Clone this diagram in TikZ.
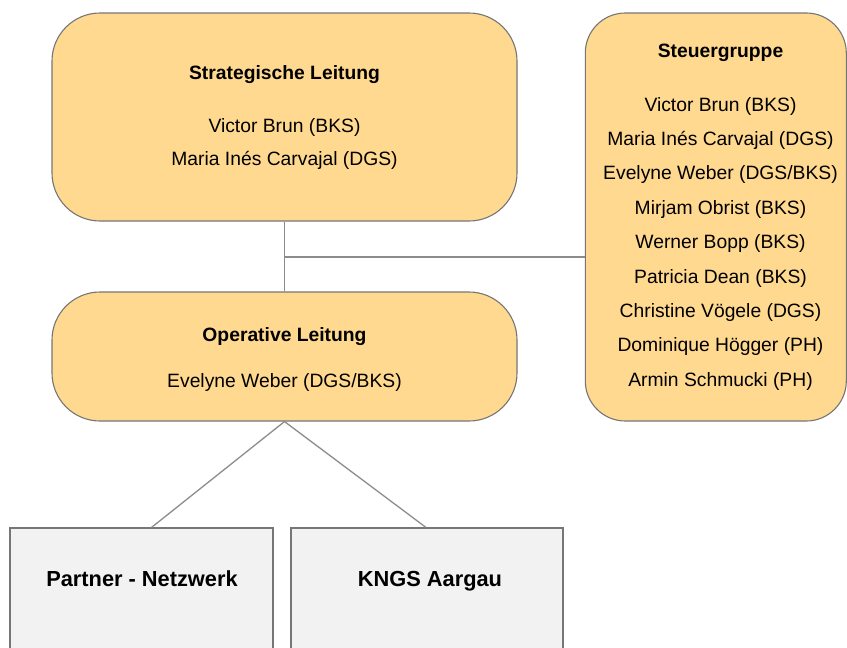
\documentclass[tikz,border=0pt]{standalone}
\usepackage{fontspec}
\setmainfont{Liberation Sans}
\definecolor{boxfill}{RGB}{255,217,143}
\definecolor{boxline}{RGB}{118,118,118}
\definecolor{greyfill}{RGB}{242,242,242}
\definecolor{conline}{RGB}{140,140,140}
\newcommand\fnorm{\fontsize{19.3}{23}\selectfont}
\newcommand\fbig{\fontsize{21.8}{26}\selectfont\bfseries}
\begin{document}
\begin{tikzpicture}[x=1pt,y=-1pt,
  orgbox/.style={draw=boxline, fill=boxfill, line width=1.1pt, inner sep=0pt},
  unitbox/.style={draw=boxline, fill=greyfill, line width=1.1pt, inner sep=0pt},
  txt/.style={anchor=base, inner sep=0pt, font=\fnorm},
  ttl/.style={anchor=base, inner sep=0pt, font=\fnorm\bfseries},
  btxt/.style={anchor=base, inner sep=0pt, font=\fbig},
  con/.style={draw=conline, line width=1.3pt}]
\useasboundingbox (0,0) rectangle (847,648);
\clip (0,0) rectangle (847,648);

% boxes
\node[orgbox, rounded corners=48pt, minimum width=465pt, minimum height=208pt] (strat) at (284.5,117) {};
\node[orgbox, rounded corners=40pt, minimum width=261pt, minimum height=408pt] (steuer) at (715.8,217) {};
\node[orgbox, rounded corners=48pt, minimum width=465pt, minimum height=129pt] (oper) at (284.5,356.5) {};
\node[unitbox, minimum width=263pt, minimum height=140pt] (partner) at (141.5,598) {};
\node[unitbox, minimum width=272pt, minimum height=140pt] (kngs) at (427,598) {};

% texts
\node[ttl] (stratT) at (284.5,79) {Strategische Leitung};
\node[txt] (stratA) at (284.5,132) {Victor Brun (BKS)};
\node[txt] (stratB) at (284.5,165) {Maria Inés Carvajal (DGS)};

\node[ttl] (steuerT) at (720.5,57) {Steuergruppe};
\foreach \t [count=\i] in {Victor Brun (BKS),Maria Inés Carvajal (DGS),Evelyne Weber (DGS/BKS),Mirjam Obrist (BKS),Werner Bopp (BKS),Patricia Dean (BKS),Christine Vögele (DGS),Dominique Högger (PH),Armin Schmucki (PH)}
  \node[txt] (steuer\i) at (720.5,{111+34.4*(\i-1)}) {\t};

\node[ttl] (operT) at (284.5,341.5) {Operative Leitung};
\node[txt] (operA) at (284.5,387) {Evelyne Weber (DGS/BKS)};

\node[btxt] (partnerT) at (142,586) {Partner - Netzwerk};
\node[btxt] (kngsT) at (430,586) {KNGS Aargau};

% connectors
\coordinate (junc) at (284.5,257);
\draw[con] (strat.south) -- (oper.north);
\draw[con] (junc) -- (junc -| steuer.west);
\draw[con] (oper.south) -- ([xshift=10pt]partner.north);
\draw[con] (oper.south) -- ([xshift=-1pt]kngs.north);
\end{tikzpicture}
\end{document}
